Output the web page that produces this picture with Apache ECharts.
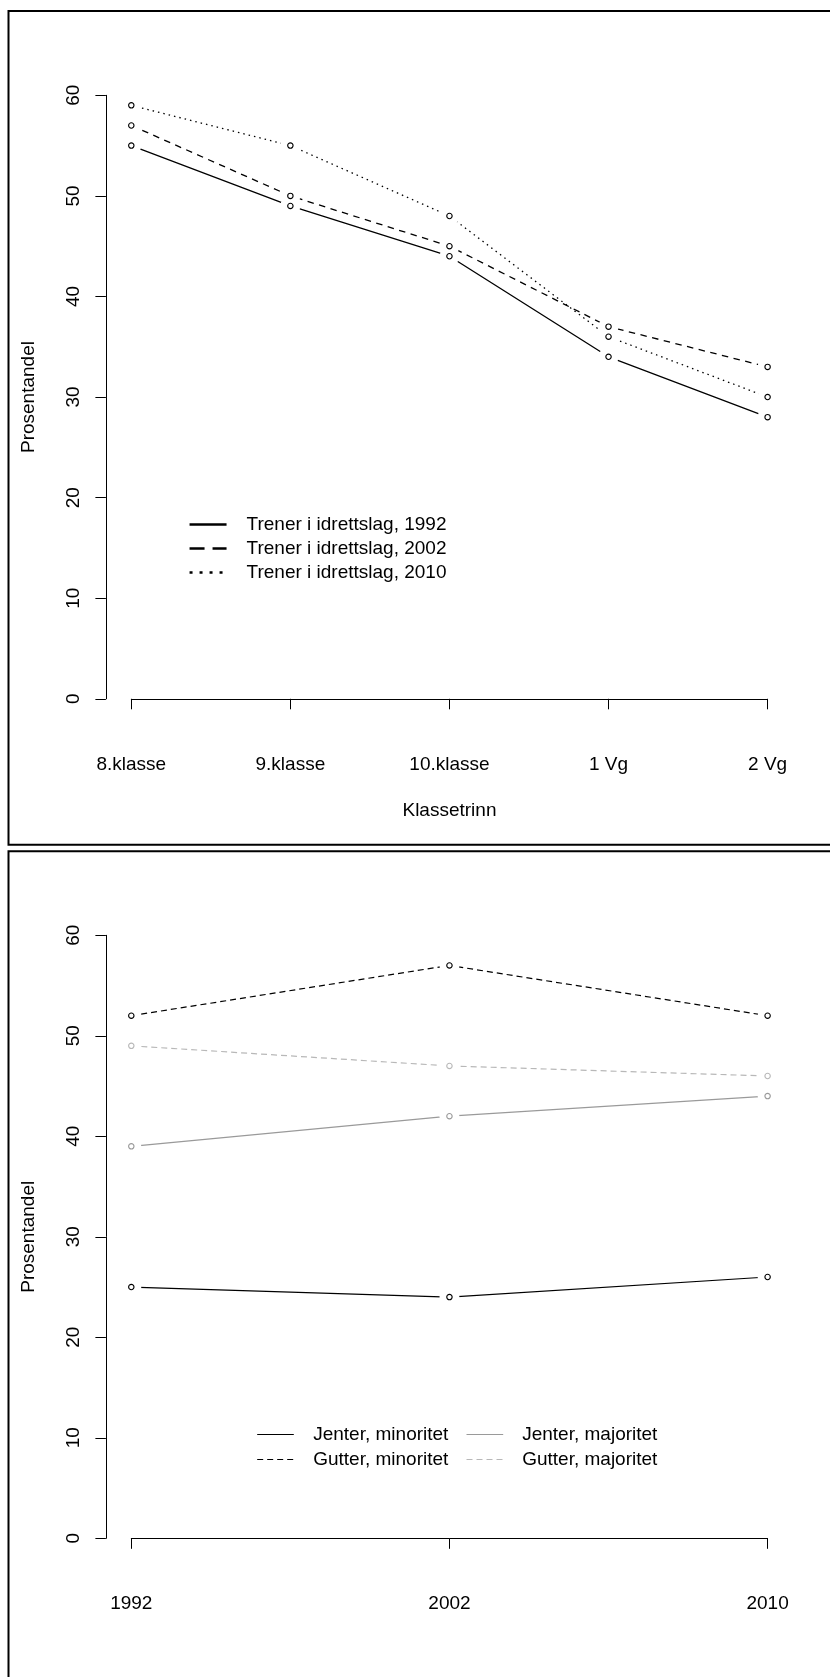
<!DOCTYPE html>
<html><head><meta charset="utf-8">
<script src="https://cdn.jsdelivr.net/npm/echarts@6/dist/echarts.min.js"></script>
<style>html,body{margin:0;padding:0;background:#fff}#c{width:830px;height:1677px}</style>
</head><body><div id="c"></div>
<script>
// ---- data ----
const klassetrinn = ['8.klasse', '9.klasse', '10.klasse', '1 Vg', '2 Vg'];
const trener1992 = [55, 49, 44, 34, 28];
const trener2002 = [57, 50, 45, 37, 33];
const trener2010 = [59, 55, 48, 36, 30];

const aar = ['1992', '2002', '2010'];
const jenterMinoritet = [25, 24, 26];
const gutterMinoritet = [52, 57, 52];
const jenterMajoritet = [39, 42, 44];
const gutterMajoritet = [49, 47, 46];

const yMin = 0, yMax = 60, yStep = 10;

// ---- styling ----
const FONT = '"Liberation Sans", Arial, Helvetica, sans-serif';
const FS = 19;

function xAxis(gi, cats, name) {
  return {
    type: 'category', gridIndex: gi, data: cats, boundaryGap: false,
    offset: 25.5,
    name: name, nameLocation: 'middle', nameGap: 76.5,
    nameTextStyle: { fontFamily: FONT, fontSize: FS, color: '#000' },
    axisLine: { lineStyle: { color: '#000', width: 1 } },
    axisTick: { length: 10.5, lineStyle: { color: '#000', width: 1 } },
    axisLabel: { interval: 0, margin: 30.5, fontFamily: FONT, fontSize: FS, color: '#000' },
    splitLine: { show: false }
  };
}
function yAxis(gi) {
  return {
    type: 'value', gridIndex: gi, min: yMin, max: yMax, interval: yStep,
    offset: 25.4,
    name: 'Prosentandel', nameLocation: 'middle', nameGap: 68,
    nameTextStyle: { fontFamily: FONT, fontSize: FS, color: '#000' },
    axisLine: { show: true, lineStyle: { color: '#000', width: 1 } },
    axisTick: { show: true, length: 10.5, lineStyle: { color: '#000', width: 1 } },
    axisLabel: { rotate: 90, margin: 23, fontFamily: FONT, fontSize: FS, color: '#000' },
    splitLine: { show: false }
  };
}
function seriesSet(gi, name, data, color, dash, width) {
  return [
    { type: 'line', name: name, xAxisIndex: gi, yAxisIndex: gi, data: data,
      symbol: 'none', z: 2, silent: true,
      lineStyle: { color: color, type: dash, width: width, opacity: 1 }, itemStyle: { color: color } },
    // white gap around each point (as in an R type="b" plot)
    { type: 'scatter', xAxisIndex: gi, yAxisIndex: gi, data: data, z: 10, silent: true,
      symbol: 'circle', symbolSize: 20, itemStyle: { color: '#fff', opacity: 1 } },
    // open circle marker
    { type: 'scatter', xAxisIndex: gi, yAxisIndex: gi, data: data, z: 20, silent: true,
      symbol: 'circle', symbolSize: 5.4,
      itemStyle: { color: '#fff', borderColor: color, borderWidth: 1.1, opacity: 1 } }
  ];
}

const GREY1 = '#9a9a9a', GREY2 = '#b8b8b8';

const series = [].concat(
  seriesSet(0, 'Trener i idrettslag, 1992', trener1992, '#000', 'solid', 1.3),
  seriesSet(0, 'Trener i idrettslag, 2002', trener2002, '#000', [6.5, 5.5], 1.3),
  seriesSet(0, 'Trener i idrettslag, 2010', trener2010, '#000', [1.5, 4], 1.3),
  seriesSet(1, 'Jenter, minoritet', jenterMinoritet, '#000', 'solid', 1.2),
  seriesSet(1, 'Gutter, minoritet', gutterMinoritet, '#000', [6, 4], 1.2),
  seriesSet(1, 'Jenter, majoritet', jenterMajoritet, GREY1, 'solid', 1.2),
  seriesSet(1, 'Gutter, majoritet', gutterMajoritet, GREY2, [6, 4], 1.2)
);

function legend(left, top, itemWidth, pad, gap, items) {
  return {
    orient: 'vertical', left: left, top: top, padding: 0,
    itemWidth: itemWidth, itemHeight: 14, itemGap: gap,
    selectedMode: false,
    itemStyle: { opacity: 0 },
    textStyle: { fontFamily: FONT, fontSize: FS, color: '#000', lineHeight: 19, padding: [0, 0, 0, pad] },
    data: items
  };
}

const option = {
  animation: false,
  backgroundColor: '#fff',
  grid: [
    { left: 131.3, right: 62.4, top: 95.3, height: 603.5, containLabel: false },
    { left: 131.3, right: 62.4, top: 935.3, height: 603 , containLabel: false }
  ],
  xAxis: [xAxis(0, klassetrinn, 'Klassetrinn'), xAxis(1, aar, '')],
  yAxis: [yAxis(0), yAxis(1)],
  legend: [
    legend(188.3, 515, 37, 15, 5, [
      { name: 'Trener i idrettslag, 1992', lineStyle: { width: 2.5, type: 'solid' } },
      { name: 'Trener i idrettslag, 2002', lineStyle: { width: 2.5, type: [15, 8] } },
      { name: 'Trener i idrettslag, 2010', lineStyle: { width: 2.5, type: [3, 7] } }
    ]),
    legend(256.7, 1425, 36.6, 14.4, 6, [
      { name: 'Jenter, minoritet', lineStyle: { width: 1, type: 'solid' } },
      { name: 'Gutter, minoritet', lineStyle: { width: 1, type: [6, 4] } }
    ]),
    legend(466, 1425, 36.7, 14, 6, [
      { name: 'Jenter, majoritet', lineStyle: { width: 1, type: 'solid' } },
      { name: 'Gutter, majoritet', lineStyle: { width: 1, type: [6, 4] } }
    ])
  ],
  graphic: [
    { type: 'rect', silent: true, shape: { x: 8.5, y: 11, width: 900, height: 833.8 },
      style: { fill: 'none', stroke: '#000', lineWidth: 2 } },
    { type: 'rect', silent: true, shape: { x: 8.5, y: 851.2, width: 900, height: 900 },
      style: { fill: 'none', stroke: '#000', lineWidth: 2 } }
  ],
  series: series
};

const chart = echarts.init(document.getElementById('c'), null, { renderer: 'canvas' });
chart.setOption(option);
</script>
</body></html>
